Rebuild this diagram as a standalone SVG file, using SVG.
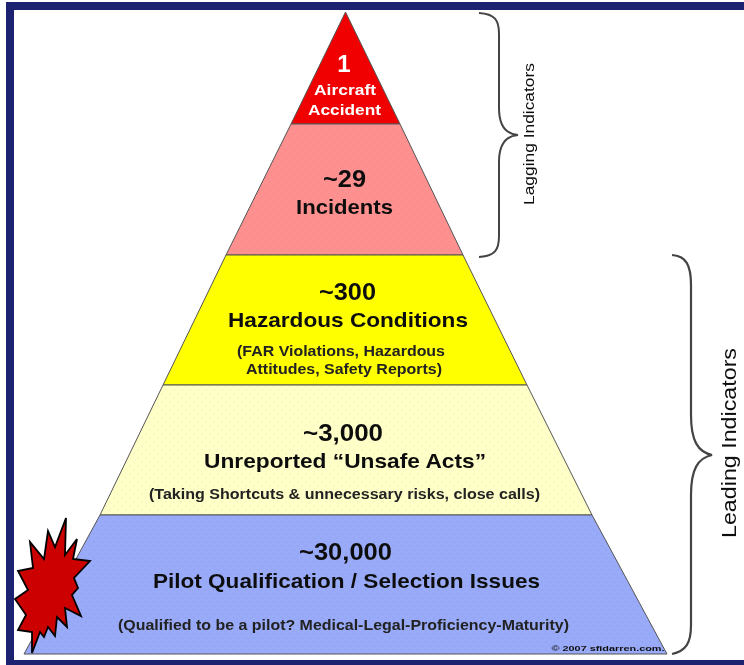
<svg xmlns="http://www.w3.org/2000/svg" width="744" height="665" viewBox="0 0 744 665">
<style>
text{font-family:"Liberation Sans",Arial,sans-serif;text-anchor:middle;fill:#111;filter:url(#soft)}
.band{stroke:#555;stroke-width:1}
.n{font-size:24px;font-weight:bold}
.t{font-size:20.500px;font-weight:bold}
.s{font-size:14.500px;font-weight:bold;fill:#222}
.a{font-size:15.500px;font-weight:bold;fill:#fff}
.brace{fill:none;stroke:#444;stroke-width:2}
</style>
<defs>
<filter id="soft" x="-5%" y="-20%" width="110%" height="140%"><feGaussianBlur stdDeviation="0.5"/></filter>
<pattern id="dots" width="8" height="8" patternUnits="userSpaceOnUse"><rect x="1" y="1" width="1.500" height="1.500" fill="#000" fill-opacity=".04"/><rect x="5" y="5" width="1.500" height="1.500" fill="#000" fill-opacity=".04"/></pattern>
</defs>
<rect width="744" height="665" fill="#fff"/>
<g id="frame" fill="#1c2270">
<rect x="6" y="2" width="738" height="8"/>
<rect x="6" y="2" width="8" height="663"/>
<rect x="6" y="660" width="738" height="5"/>
</g>
<g id="level-accident">
<polygon class="band" points="345.500,12 400,124 291,124" fill="#f00000"/>
<text class="n" style="fill:#fff" x="344" y="72">1</text>
<text class="a" x="345" y="95" textLength="62" lengthAdjust="spacingAndGlyphs">Aircraft</text>
<text class="a" x="344.500" y="115" textLength="73" lengthAdjust="spacingAndGlyphs">Accident</text>
</g>
<g id="level-incidents">
<polygon class="band" points="291,124 400,124 463,255 226,255" fill="#ff9090"/>
<polygon points="291,124 400,124 463,255 226,255" fill="url(#dots)"/>
<text class="n" x="344.500" y="187" textLength="43" lengthAdjust="spacingAndGlyphs">~29</text>
<text class="t" x="344.500" y="214" textLength="97" lengthAdjust="spacingAndGlyphs">Incidents</text>
</g>
<g id="level-hazardous">
<polygon class="band" points="226,255 463,255 527,385 163,385" fill="#ffff00"/>
<text class="n" x="347.500" y="300" textLength="57" lengthAdjust="spacingAndGlyphs">~300</text>
<text class="t" x="348" y="327" textLength="240" lengthAdjust="spacingAndGlyphs">Hazardous Conditions</text>
<text class="s" x="341" y="356" textLength="208" lengthAdjust="spacingAndGlyphs">(FAR Violations, Hazardous</text>
<text class="s" x="344" y="374" textLength="196" lengthAdjust="spacingAndGlyphs">Attitudes, Safety Reports)</text>
</g>
<g id="level-unsafe">
<polygon class="band" points="163,385 527,385 592,515 100,515" fill="#ffffc8"/>
<polygon points="163,385 527,385 592,515 100,515" fill="url(#dots)"/>
<text class="n" x="343" y="441" textLength="80" lengthAdjust="spacingAndGlyphs">~3,000</text>
<text class="t" x="345" y="468" textLength="282" lengthAdjust="spacingAndGlyphs">Unreported “Unsafe Acts”</text>
<text class="s" x="344.500" y="499" textLength="391" lengthAdjust="spacingAndGlyphs">(Taking Shortcuts &amp; unnecessary risks, close calls)</text>
</g>
<g id="level-pilot">
<polygon class="band" points="100,515 592,515 667,654 24,654" fill="#98aaf8"/>
<polygon points="100,515 592,515 667,654 24,654" fill="url(#dots)"/>
<text class="n" x="345.500" y="560" textLength="93" lengthAdjust="spacingAndGlyphs">~30,000</text>
<text class="t" x="346.500" y="588" textLength="387" lengthAdjust="spacingAndGlyphs">Pilot Qualification / Selection Issues</text>
<text class="s" x="343.500" y="630" textLength="451" lengthAdjust="spacingAndGlyphs">(Qualified to be a pilot? Medical-Legal-Proficiency-Maturity)</text>
<text x="608" y="651" style="font-size:8px;font-weight:bold" textLength="113" lengthAdjust="spacingAndGlyphs">© 2007 sfidarren.com.</text>
</g>
<g id="burst">
<polygon points="66,518 55,547 48,531 44,559 30,542 33,568 18,571 28,590 15,599 26,615 18,630 32,632 32,653 40,632 44,637 48,627 55,636 57,617 67,627 65,608 81,616 72,595 78,588 74,578 90,561 73,559 77,539 65,555" fill="#cc0000" stroke="#000" stroke-width="1.800"/>
</g>
<g id="lagging">
<path class="brace" d="M479 13C495 14 499 20 499 34V108C499 124 504 134 518 135C504 136 499 146 499 162V236C499 250 495 256 479 257"/>
<text x="530" y="134" transform="rotate(-90 530 134)" style="font-size:15px" dominant-baseline="middle" textLength="142" lengthAdjust="spacingAndGlyphs">Lagging Indicators</text>
</g>
<g id="leading">
<path class="brace" style="stroke-width:2.200" d="M672 255C686 256 691 265 691 285V415C691 441 698 452 712 455C698 458 691 469 691 495V625C691 643 686 651 672 654"/>
<text x="731" y="443" transform="rotate(-90 731 443)" style="font-size:20px" dominant-baseline="middle" textLength="190" lengthAdjust="spacingAndGlyphs">Leading Indicators</text>
</g>
</svg>
